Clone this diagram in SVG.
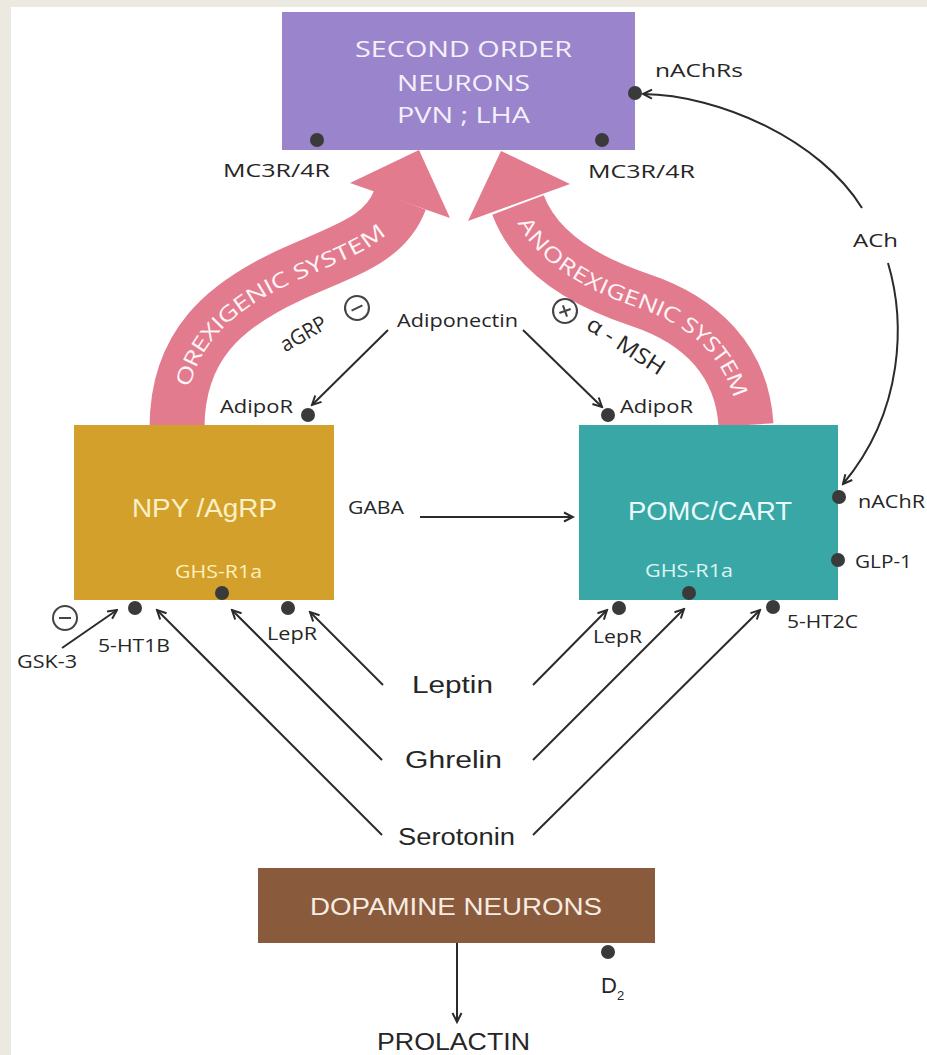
<svg xmlns="http://www.w3.org/2000/svg" width="927" height="1055" viewBox="0 0 927 1055">
<defs>
<marker id="arr" viewBox="0 0 12 12" refX="10.5" refY="6" markerWidth="12" markerHeight="12" markerUnits="userSpaceOnUse" orient="auto"><path d="M1.5,1.5 L10.5,6 L1.5,10.5" fill="none" stroke="#2b2b2b" stroke-width="2"/></marker>
<path id="lp" d="M177,428 C177,345 225,305 290,275 C345,250 385,240 400,200"/>
<path id="rp" d="M518,205 C535,250 580,280 640,300 C700,320 742,360 746,425"/>
</defs>
<style>
.lab{font-family:"Open Sans","Liberation Sans",sans-serif;font-size:18px;fill:#262626}
.hv{font-family:"Liberation Sans",Arial,sans-serif;fill:#262626}
.dot{fill:#3a3a3a}
.ln{stroke:#2b2b2b;stroke-width:2;fill:none}
.band{fill:none;stroke:#e37b8f;stroke-width:55}
.head{fill:#e37b8f}
.btxt{font-family:"Open Sans","Liberation Sans",sans-serif;font-size:21px;fill:#fff5f7}
.sym{fill:none;stroke:#444;stroke-width:2}
</style>
<rect x="0" y="0" width="927" height="1055" fill="#ffffff"/>
<rect x="0" y="0" width="927" height="7" fill="#ece9e1"/>
<rect x="0" y="0" width="11" height="1055" fill="#ece9e1"/>

<g id="orexigenic">
<use href="#lp" class="band"/>
<polygon class="head" points="350,183 419,150 450,218"/>
<text class="btxt" dominant-baseline="central"><textPath href="#lp" startOffset="43" textLength="264" lengthAdjust="spacingAndGlyphs">OREXIGENIC SYSTEM</textPath></text>
</g>
<g id="anorexigenic">
<use href="#rp" class="band"/>
<polygon class="head" points="468,221 501,151 570,184"/>
<text class="btxt" dominant-baseline="central"><textPath href="#rp" startOffset="15" textLength="290" lengthAdjust="spacingAndGlyphs">ANOREXIGENIC SYSTEM</textPath></text>
</g>

<g id="second-order">
<rect x="282" y="12" width="353" height="138" fill="#9a84cb"/>
<g font-family="'Open Sans','Liberation Sans',sans-serif" font-size="21" fill="#f4f0fa">
<text x="355" y="57" textLength="217" lengthAdjust="spacingAndGlyphs">SECOND ORDER</text>
<text x="397" y="91" textLength="133" lengthAdjust="spacingAndGlyphs">NEURONS</text>
<text x="397" y="123" textLength="133" lengthAdjust="spacingAndGlyphs">PVN ; LHA</text>
</g>
<circle class="dot" cx="317" cy="140" r="7"/>
<circle class="dot" cx="602" cy="140" r="7"/>
<circle class="dot" cx="635" cy="93" r="7"/>
<text class="lab" x="223" y="177" textLength="107" lengthAdjust="spacingAndGlyphs">MC3R/4R</text>
<text class="lab" x="588" y="178" textLength="107" lengthAdjust="spacingAndGlyphs">MC3R/4R</text>
<text class="lab" x="655" y="77" textLength="88" lengthAdjust="spacingAndGlyphs">nAChRs</text>
</g>

<g id="npy-agrp">
<rect x="74" y="425" width="260" height="175" fill="#d3a02b"/>
<text x="132" y="517" font-family="'Liberation Sans',Arial,sans-serif" font-size="25" fill="#fcf1c6" textLength="145" lengthAdjust="spacingAndGlyphs">NPY /AgRP</text>
<text x="175" y="578" font-family="'Open Sans','Liberation Sans',sans-serif" font-size="18" fill="#fcf0bd" textLength="87" lengthAdjust="spacingAndGlyphs">GHS-R1a</text>
<circle class="dot" cx="222" cy="593" r="7"/>
<circle class="dot" cx="135" cy="608" r="7"/>
<circle class="dot" cx="288" cy="608" r="7"/>
<circle class="dot" cx="308" cy="415" r="7"/>
<text class="lab" x="220" y="413" textLength="73" lengthAdjust="spacingAndGlyphs">AdipoR</text>
<text class="lab" x="98" y="652" textLength="72" lengthAdjust="spacingAndGlyphs">5-HT1B</text>
<text class="lab" x="267" y="640" textLength="50" lengthAdjust="spacingAndGlyphs">LepR</text>
</g>

<g id="pomc-cart">
<rect x="579" y="425" width="259" height="175" fill="#38a7a5"/>
<text x="628" y="520" font-family="'Liberation Sans',Arial,sans-serif" font-size="25" fill="#e8fbfa" textLength="164" lengthAdjust="spacingAndGlyphs">POMC/CART</text>
<text x="645" y="577" font-family="'Open Sans','Liberation Sans',sans-serif" font-size="18" fill="#def6f4" textLength="88" lengthAdjust="spacingAndGlyphs">GHS-R1a</text>
<circle class="dot" cx="619" cy="608" r="7"/>
<circle class="dot" cx="689" cy="593" r="7"/>
<circle class="dot" cx="773" cy="607" r="7"/>
<circle class="dot" cx="839" cy="497" r="7"/>
<circle class="dot" cx="838" cy="560" r="7"/>
<circle class="dot" cx="608" cy="415" r="7"/>
<text class="lab" x="620" y="413" textLength="73" lengthAdjust="spacingAndGlyphs">AdipoR</text>
<text class="lab" x="593" y="643" textLength="49" lengthAdjust="spacingAndGlyphs">LepR</text>
<text class="lab" x="787" y="628" textLength="71" lengthAdjust="spacingAndGlyphs">5-HT2C</text>
<text class="lab" x="858" y="508" textLength="67" lengthAdjust="spacingAndGlyphs">nAChR</text>
<text class="lab" x="855" y="568" textLength="57" lengthAdjust="spacingAndGlyphs">GLP-1</text>
</g>

<g id="dopamine">
<rect x="258" y="868" width="397" height="75" fill="#8a5a3c"/>
<text x="310" y="915" font-family="'Liberation Sans',Arial,sans-serif" font-size="24" fill="#f6ece2" textLength="292" lengthAdjust="spacingAndGlyphs">DOPAMINE NEURONS</text>
<circle class="dot" cx="608" cy="952" r="7"/>
<text class="hv" x="601" y="993" font-size="22">D</text>
<text class="hv" x="617" y="1000" font-size="13">2</text>
</g>

<g id="mediators">
<text class="lab" x="397" y="327" style="font-size:19px" textLength="121" lengthAdjust="spacingAndGlyphs">Adiponectin</text>
<text class="lab" transform="translate(307,340) rotate(-30)" text-anchor="middle" style="font-size:21px" textLength="50" lengthAdjust="spacingAndGlyphs">aGRP</text>
<g transform="translate(357,308) rotate(-25)"><circle class="sym" r="12"/><line class="sym" x1="-6" y1="0" x2="6" y2="0"/></g>
<g transform="translate(565,311) rotate(-20)"><circle class="sym" r="12"/><line class="sym" x1="-6" y1="0" x2="6" y2="0"/><line class="sym" x1="0" y1="-6" x2="0" y2="6"/></g>
<text class="lab" transform="translate(622,352) rotate(33)" text-anchor="middle" style="font-size:22px" textLength="88" lengthAdjust="spacingAndGlyphs">α - MSH</text>
<text class="lab" x="853" y="247" style="font-size:19px" textLength="45" lengthAdjust="spacingAndGlyphs">ACh</text>
<text class="lab" x="348" y="514" textLength="56" lengthAdjust="spacingAndGlyphs">GABA</text>
<g><circle class="sym" cx="65" cy="618" r="12"/><line class="sym" x1="59" y1="618" x2="71" y2="618"/></g>
<text class="lab" x="17" y="668" textLength="60" lengthAdjust="spacingAndGlyphs">GSK-3</text>
<text class="hv" x="412" y="693" font-size="23" textLength="81" lengthAdjust="spacingAndGlyphs">Leptin</text>
<text class="hv" x="405" y="768" font-size="23" textLength="97" lengthAdjust="spacingAndGlyphs">Ghrelin</text>
<text class="hv" x="398" y="845" font-size="23" textLength="117" lengthAdjust="spacingAndGlyphs">Serotonin</text>
<text class="hv" x="377" y="1050" font-size="23" textLength="153" lengthAdjust="spacingAndGlyphs">PROLACTIN</text>
</g>

<g id="connectors" class="ln">
<path class="ln" d="M862,208 C820,140 720,95 643,94" marker-end="url(#arr)"/>
<path class="ln" d="M888,263 C905,320 905,410 843,484" marker-end="url(#arr)"/>
<line x1="388" y1="330" x2="312" y2="405" marker-end="url(#arr)"/>
<line x1="523" y1="330" x2="602" y2="407" marker-end="url(#arr)"/>
<line x1="420" y1="517" x2="573" y2="517" marker-end="url(#arr)"/>
<line x1="62" y1="648" x2="117" y2="610" marker-end="url(#arr)"/>
<line x1="383" y1="685" x2="310" y2="612" marker-end="url(#arr)"/>
<line x1="382" y1="760" x2="232" y2="610" marker-end="url(#arr)"/>
<line x1="382" y1="835" x2="157" y2="610" marker-end="url(#arr)"/>
<line x1="533" y1="685" x2="607" y2="610" marker-end="url(#arr)"/>
<line x1="533" y1="760" x2="684" y2="609" marker-end="url(#arr)"/>
<line x1="533" y1="835" x2="760" y2="610" marker-end="url(#arr)"/>
<line x1="457" y1="943" x2="457" y2="1022" marker-end="url(#arr)"/>
</g>
</svg>
